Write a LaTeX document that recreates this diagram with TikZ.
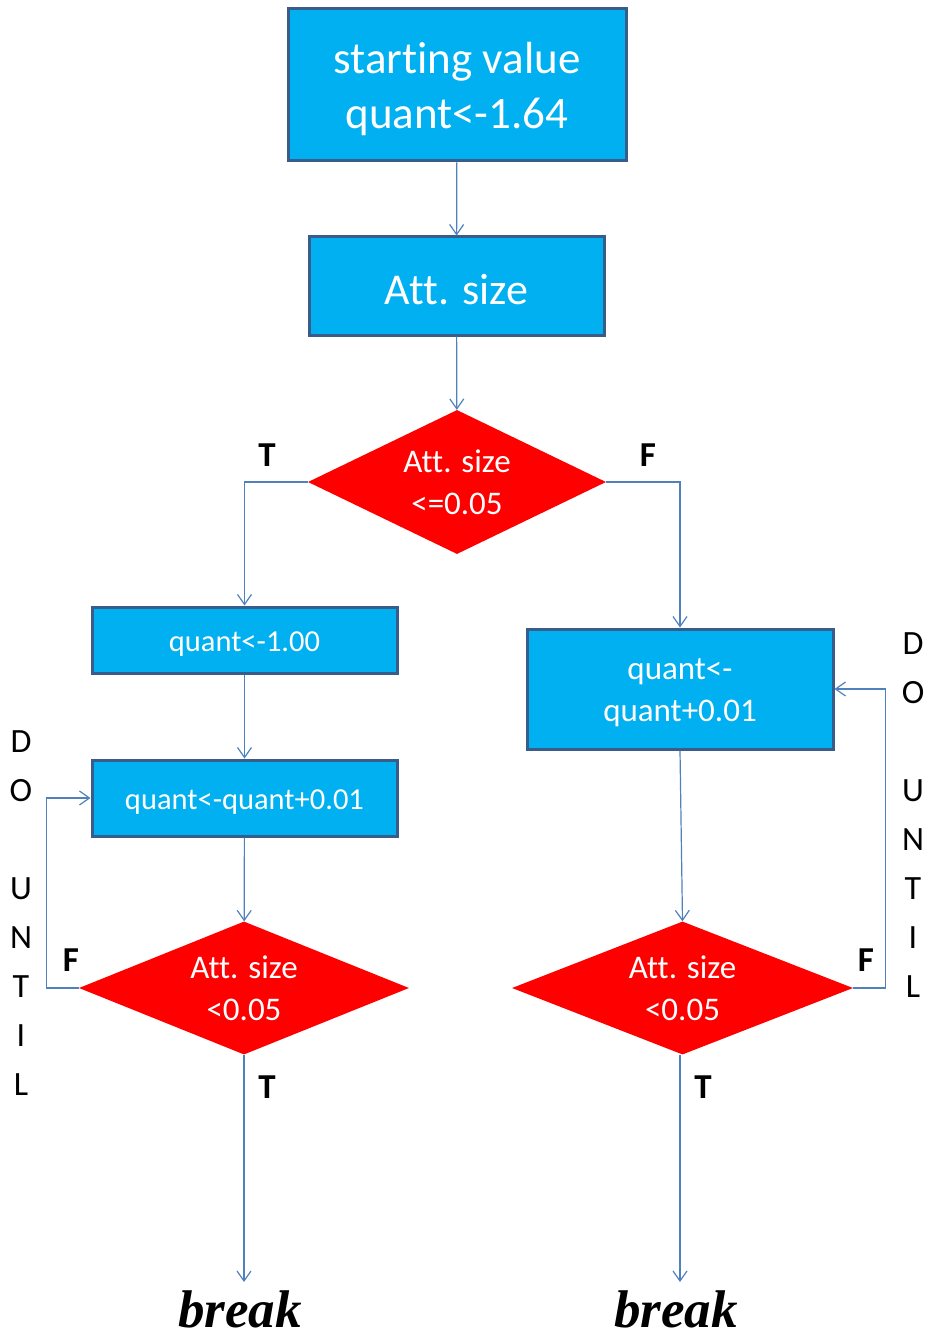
\documentclass[tikz,border=0pt]{standalone}
\usepackage{fontspec}
\setmainfont{Carlito}[Ligatures=NoCommon]
\newfontfamily\brkfont{Liberation Serif}
\usetikzlibrary{shapes.geometric,arrows.meta}

\definecolor{boxblue}{HTML}{00B0F0}
\definecolor{boxedge}{HTML}{385D8A}
\definecolor{lineblue}{HTML}{4F81BD}

% text a bit lower in the boxes, box size unchanged
\newcommand\dn[1]{\raisebox{-4pt}[\height][\depth]{#1}}

\tikzset{
  stepbox/.style={draw=boxedge, line width=3pt, fill=boxblue, text=white,
    inner sep=0pt, align=center},
  test/.style={diamond, fill=red, text=white, inner sep=0pt, align=center,
    font=\fontsize{33}{42}\selectfont},
  flow/.style={draw=lineblue, line width=1.2pt,
    -{Straight Barb[length=10pt,width=14pt]}},
  tf/.style={font=\fontsize{35}{40}\selectfont\bfseries},
  dountil/.style={align=center, font=\fontsize{34}{49}\selectfont},
  brk/.style={inner sep=0pt, font=\fontsize{53}{60}\selectfont\brkfont\bfseries\itshape}
}

\begin{document}
\begin{tikzpicture}[x=1pt,y=-1pt]
      \useasboundingbox (0,0) rectangle (927,1337);

      % boxes
      \node[stepbox, minimum width=338pt, minimum height=152pt,
        font=\fontsize{45}{55}\selectfont] (start) at (457,85)
        {\dn{starting value}\\\dn{quant<-1.64}};
      \node[stepbox, minimum width=295pt, minimum height=98pt,
        font=\fontsize{44}{50}\selectfont] (size) at (456.5,286) {\dn{Att. size}};
      \node[test, minimum width=298pt, minimum height=144pt, aspect=2.07]
        (test0) at (457,482) {Att. size\\<=0.05};

      \node[stepbox, minimum width=305pt, minimum height=66pt,
        font=\fontsize{30.5}{36}\selectfont] (lset) at (244.5,640) {\dn{quant<-1.00}};
      \node[stepbox, minimum width=305pt, minimum height=76pt,
        font=\fontsize{30.5}{36}\selectfont] (lstep) at (244.5,798) {\dn{quant<-quant+0.01}};
      \node[test, minimum width=330pt, minimum height=133pt, aspect=2.48]
        (ltest) at (244,988) {Att. size\\<0.05};

      \node[stepbox, minimum width=306pt, minimum height=120pt,
        font=\fontsize{33}{42}\selectfont] (rstep) at (680,689) {\dn{quant<-}\\\dn{quant+0.01}};
      \node[test, minimum width=341pt, minimum height=133pt, aspect=2.56]
        (rtest) at (682.5,988) {Att. size\\<0.05};

      % loose ends
      \coordinate (lend) at (244,1282);
      \coordinate (rend) at (680,1282);

      % connectors
      \draw[flow] (start) -- (size);
      \draw[flow] (size) -- (test0);
      \draw[flow] (test0.west) -| (lset.north);
      \draw[flow] (test0.east) -| (rstep.north);
      \draw[flow] (lset) -- (lstep);
      \draw[flow] (lstep) -- (ltest);
      \draw[flow] (ltest.west) -- ++(-32,0) |- (lstep.west);
      \draw[flow] (ltest.south) -- (lend);
      \draw[flow] (rstep.south) -- (rtest.north);
      \draw[flow] (rtest.east) -- ++(32,0) |- (rstep.east);
      \draw[flow] (rtest.south -| rend) -- (rend);

      % labels
      \node[tf] (t0) at (267,455) {T};
      \node[tf] (f0) at (648,455) {F};
      \node[tf] (lf) at (71,960) {F};
      \node[tf] (rf) at (866,960) {F};
      \node[tf] (lt) at (267,1087) {T};
      \node[tf] (rt) at (703,1087) {T};

      \node[dountil] (ldo) at (21,913.5) {D\\O\\ \\U\\N\\T\\I\\L};
      \node[dountil] (rdo) at (913,815) {D\\O\\ \\U\\N\\T\\I\\L};

      \node[brk] (lbreak) at (240,1309) {break};
      \node[brk] (rbreak) at (676,1309) {break};
    \end{tikzpicture}
\end{document}
